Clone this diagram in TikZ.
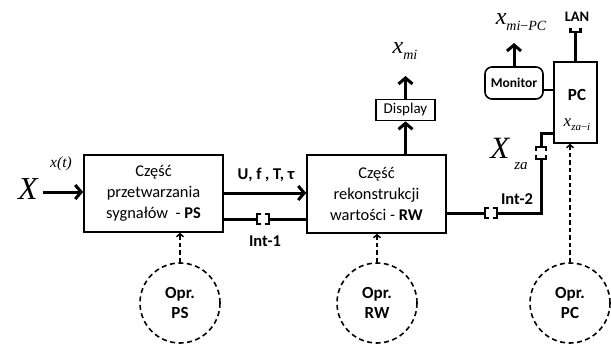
\documentclass[tikz,border=0pt]{standalone}
\usepackage{fontspec}
\setmainfont{Carlito}
\newfontfamily\tms{Liberation Serif}
\usetikzlibrary{arrows.meta}
\begin{document}
\begin{tikzpicture}[x=1pt,y=-1pt,
 box/.style={draw, line width=1.6pt, inner sep=0pt, align=center, font=\fontsize{16.4}{21}\selectfont},
 conn/.style={line width=3pt},
 arr/.style={conn, -{Straight Barb[length=6pt,width=14pt]}},
 darr/.style={line width=1.5pt, dash pattern=on 4.5pt off 3pt, -{Straight Barb[length=3pt,width=7pt]}},
 opr/.style={circle, draw, line width=1.6pt, dash pattern=on 5pt off 3.5pt, minimum size=80pt, inner sep=0pt, align=center, font=\bfseries\fontsize{17}{20}\selectfont},
 lbl/.style={font=\bfseries\fontsize{16.5}{18}\selectfont, inner sep=0pt},
 plug/.style={inner sep=0pt, minimum width=12pt, minimum height=10pt},
 hplug/.pic={\draw[line width=2.8pt] (-2,-5) -- (-6,-5) -- (-6,5) -- (-2,5) (2,-5) -- (6,-5) -- (6,5) -- (2,5);},
 vplug/.pic={\draw[line width=2.8pt] (-5,-2) -- (-5,-6) -- (5,-6) -- (5,-2) (-5,2) -- (-5,6) -- (5,6) -- (5,2);},
 lanplug/.pic={\draw[line width=2.6pt] (-5,-4) -- (-5,0) -- (5,0) -- (5,-4);}
]
\useasboundingbox (0,0) rectangle (611,345);

% main blocks
\node[box, minimum width=139pt, minimum height=77pt] (ps) at (153.5,193.5) {Część\\przetwarzania\\sygnałów \ - \textbf{PS}};
\node[box, minimum width=139pt, minimum height=78pt] (rw) at (376.5,194) {Część\\rekonstrukcji\\wartości - \textbf{RW}};
\node[box, minimum width=59pt, minimum height=21pt, font=\fontsize{15}{16}\selectfont] (disp) at (405.5,110) {Display};
\node[draw, line width=1.6pt, rounded corners=7pt, minimum width=58pt, minimum height=32pt, inner sep=0pt, font=\bfseries\fontsize{13.5}{15}\selectfont] (mon) at (514,83) {Monitor};
\node[draw, line width=1.6pt, minimum width=43pt, minimum height=81pt, inner sep=0pt] (pc) at (575.5,102.5) {};
\node[lbl, font=\bfseries\fontsize{17}{18}\selectfont] (pclbl) at (577,95) {PC};
\node[inner sep=0pt, font=\tms\itshape\fontsize{17}{17}\selectfont] (xzai) at (577,125) {x\raisebox{-4pt}{\fontsize{11}{11}\selectfont za\/}\raisebox{-4pt}{\fontsize{11}{11}\selectfont\upshape −}\raisebox{-4pt}{\fontsize{11}{11}\selectfont i}};

% operator circles
\node[opr] (ops) at (180,303) {Opr.\\PS};
\node[opr] (orw) at (377,303) {Opr.\\RW};
\node[opr] (opc) at (570,303) {Opr.\\PC};

% input
\node[inner sep=0pt, font=\tms\itshape\fontsize{32}{32}\selectfont] (X) at (28,189) {X};
\node[inner sep=0pt, font=\tms\itshape\fontsize{15.5}{15.5}\selectfont] (xt) at (61,164) {x(t)};
\coordinate (xin) at (43,192);
\draw[arr] (xin) -- (ps.west |- xin);

% PS -> RW
\coordinate (a1) at (223,193);
\draw[arr] (a1) -- (rw.west |- a1);
\node[lbl] (uf) at (266,175) {U, f , T, τ};
\node[plug] (i1) at (263,219) {};
\pic at (i1) {hplug};
\draw[conn] (ps.east |- i1) -- (i1.west);
\draw[conn] (i1.east) -- (rw.west |- i1);
\node[lbl] (int1) at (265,241) {Int-1};

% RW -> Display -> x_mi
\draw[arr] (disp.south |- rw.north) -- (disp.south);
\coordinate (xmitop) at (405.5,76);
\draw[arr] (disp.north) -- (xmitop);
\node[inner sep=0pt, font=\tms\itshape\fontsize{24}{24}\selectfont] (xmi) at (405,51) {x\raisebox{-6pt}{\fontsize{14}{14}\selectfont mi}};

% RW -> PC
\node[plug] (i2) at (491,213) {};
\pic at (i2) {hplug};
\coordinate (c1) at (541,213);
\coordinate (c2) at (541,133);
\node[plug, minimum width=10pt, minimum height=12pt] (i3) at (541,153) {};
\pic at (i3) {vplug};
\draw[conn] (rw.east |- i2) -- (i2.west);
\draw[conn] (i2.east) -- (c1) -- (i3.south);
\draw[conn] (i3.north) -- (c2) -- (pc.west |- c2);
\node[lbl] (int2) at (517,199) {Int-2};
\node[inner sep=0pt, font=\tms\itshape\fontsize{31}{31}\selectfont] (Xza) at (509,154) {X\,\raisebox{-11pt}{\fontsize{15}{15}\selectfont za}};

% Monitor / PC
\coordinate (mp) at (548,90);
\draw[line width=1.6pt] (mon.east |- mp) -- (pc.west |- mp);
\coordinate (mtop) at (514,43);
\draw[arr] (mon.north) -- (mtop);
\node[inner sep=0pt, font=\tms\itshape\fontsize{24}{24}\selectfont] (xmipc) at (521,22) {x\raisebox{-6pt}{\fontsize{14}{14}\selectfont mi\upshape −\itshape PC}};
\coordinate (lanp) at (575.5,32);
\draw[conn] (pc.north) -- (lanp);
\pic at (lanp) {lanplug};
\node[lbl, font=\bfseries\fontsize{14.5}{16}\selectfont] (lan) at (577,17) {LAN};

% operator links
\draw[darr] (ops.north) -- (ops.north |- ps.south);
\draw[darr] (orw.north) -- (orw.north |- rw.south);
\draw[darr] (opc.north) -- (opc.north |- pc.south);
\end{tikzpicture}
\end{document}
